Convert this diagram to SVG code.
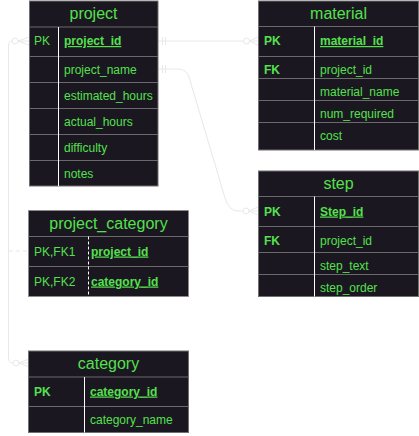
<svg xmlns="http://www.w3.org/2000/svg" width="419" height="436" viewBox="0 0 419 436">
  <style>
    .box { fill: #1a1720; stroke: #707070; stroke-width: 1; }
    .boxd { fill: #1a1720; stroke: #8a8a8a; stroke-width: 1; stroke-dasharray: 3 2; }
    .sep { stroke: #6a6a6a; stroke-width: 1; }
    .div { stroke: #ffffff; stroke-width: 1; }
    .divd { stroke: #ffffff; stroke-width: 1; stroke-dasharray: 3 2; }
    .hdr { fill: #55e04e; font-family: "Liberation Sans", Arial, sans-serif; font-size: 16px; text-anchor: middle; }
    .t { fill: #55e04e; font-family: "Liberation Sans", Arial, sans-serif; font-size: 12px; }
    .k { font-weight: bold; }
    .pk { font-weight: bold; text-decoration: underline; }
    .ln { fill: none; stroke: #e8e8e8; stroke-width: 1; }
    .lnd { fill: none; stroke: #e8e8e8; stroke-width: 1; stroke-dasharray: 4 3; }
  </style>

  <!-- relationships -->
  <g id="connectors">
    <!-- project.project_id -> material -->
    <path class="ln" d="M158.5,41 H243.5"/>
    <path class="ln" d="M162.5,37 V45 M165.5,37 V45"/>
    <circle class="ln" cx="246.5" cy="41" r="3"/>
    <path class="ln" d="M249.5,41 L258,37 M249.5,41 H258 M249.5,41 L258,45"/>

    <!-- project.project_name -> step -->
    <path class="ln" d="M158.5,69 H178 Q186,69 189,77 L225,198 Q229,211 238,211 H243"/>
    <path class="ln" d="M162.5,65 V73 M165.5,65 V73"/>
    <circle class="ln" cx="246" cy="211" r="3"/>
    <path class="ln" d="M249,211 L258,207 M249,211 H258 M249,211 L258,215"/>

    <!-- project <-> category via project_category -->
    <path class="ln" d="M12,41 Q8.5,41 8.5,46 V358 Q8.5,363 13,363"/>
    <circle class="ln" cx="15" cy="41" r="3"/>
    <path class="ln" d="M18,41 L29,37 M18,41 H29 M18,41 L29,45"/>
    <circle class="ln" cx="16" cy="363" r="3"/>
    <path class="ln" d="M19,363 L29,359 M19,363 H29 M19,363 L29,367"/>
    <path class="lnd" d="M9,251 H28"/>
  </g>

  <!-- project -->
  <g id="project">
    <rect class="box" x="29.5" y="1" width="128.5" height="185"/>
    <line class="sep" x1="29.5" y1="27" x2="158" y2="27"/>
    <line class="sep" x1="29.5" y1="56.5" x2="158" y2="56.5"/>
    <line class="sep" x1="29.5" y1="82.5" x2="158" y2="82.5"/>
    <line class="sep" x1="29.5" y1="108.5" x2="158" y2="108.5"/>
    <line class="sep" x1="29.5" y1="134.5" x2="158" y2="134.5"/>
    <line class="sep" x1="29.5" y1="160.5" x2="158" y2="160.5"/>
    <line class="div" x1="58.5" y1="27" x2="58.5" y2="186"/>
    <text class="hdr" x="93.5" y="19">project</text>
    <text class="t" x="34" y="45">PK</text>
    <text class="t pk" x="64" y="45">project_id</text>
    <text class="t" x="64" y="74">project_name</text>
    <text class="t" x="64" y="100">estimated_hours</text>
    <text class="t" x="64" y="126">actual_hours</text>
    <text class="t" x="64" y="152">difficulty</text>
    <text class="t" x="64" y="177.5">notes</text>
  </g>

  <!-- material -->
  <g id="material">
    <rect class="box" x="258.5" y="1" width="160" height="149"/>
    <line class="sep" x1="258.5" y1="26.5" x2="418.5" y2="26.5"/>
    <line class="sep" x1="258.5" y1="56.5" x2="418.5" y2="56.5"/>
    <line class="sep" x1="258.5" y1="78.5" x2="418.5" y2="78.5"/>
    <line class="sep" x1="258.5" y1="100.5" x2="418.5" y2="100.5"/>
    <line class="sep" x1="258.5" y1="122.5" x2="418.5" y2="122.5"/>
    <line class="div" x1="314.5" y1="26.5" x2="314.5" y2="150"/>
    <text class="hdr" x="338.5" y="19">material</text>
    <text class="t k" x="264" y="45">PK</text>
    <text class="t pk" x="320" y="45">material_id</text>
    <text class="t k" x="264" y="74">FK</text>
    <text class="t" x="320" y="74">project_id</text>
    <text class="t" x="320" y="96">material_name</text>
    <text class="t" x="320" y="118">num_required</text>
    <text class="t" x="320" y="140">cost</text>
  </g>

  <!-- step -->
  <g id="step">
    <rect class="box" x="258.5" y="171" width="160" height="125.5"/>
    <line class="sep" x1="258.5" y1="196.5" x2="418.5" y2="196.5"/>
    <line class="sep" x1="258.5" y1="226.5" x2="418.5" y2="226.5"/>
    <line class="sep" x1="258.5" y1="252.5" x2="418.5" y2="252.5"/>
    <line class="sep" x1="258.5" y1="274.5" x2="418.5" y2="274.5"/>
    <line class="div" x1="314.5" y1="196.5" x2="314.5" y2="296.5"/>
    <text class="hdr" x="338.5" y="189">step</text>
    <text class="t k" x="264" y="215.5">PK</text>
    <text class="t pk" x="320" y="215.5">Step_id</text>
    <text class="t k" x="264" y="244.5">FK</text>
    <text class="t" x="320" y="244.5">project_id</text>
    <text class="t" x="320" y="270">step_text</text>
    <text class="t" x="320" y="292">step_order</text>
  </g>

  <!-- project_category -->
  <g id="project_category">
    <rect class="boxd" x="28.5" y="210.5" width="160" height="86"/>
    <line class="sep" x1="28.5" y1="236.5" x2="188.5" y2="236.5"/>
    <line class="sep" x1="28.5" y1="266.5" x2="188.5" y2="266.5"/>
    <line class="divd" x1="88.5" y1="236.5" x2="88.5" y2="296.5"/>
    <text class="hdr" x="108.5" y="229">project_category</text>
    <text class="t" x="34" y="255.5">PK,FK1</text>
    <text class="t pk" x="91" y="255.5">project_id</text>
    <text class="t" x="34" y="285.5">PK,FK2</text>
    <text class="t pk" x="91" y="285.5">category_id</text>
  </g>

  <!-- category -->
  <g id="category">
    <rect class="box" x="28.5" y="351" width="160" height="81.5"/>
    <line class="sep" x1="28.5" y1="377" x2="188.5" y2="377"/>
    <line class="sep" x1="28.5" y1="406.5" x2="188.5" y2="406.5"/>
    <line class="div" x1="84.5" y1="377" x2="84.5" y2="432.5"/>
    <text class="hdr" x="108.5" y="369">category</text>
    <text class="t k" x="34" y="395.5">PK</text>
    <text class="t pk" x="90" y="395.5">category_id</text>
    <text class="t" x="90" y="424">category_name</text>
  </g>
</svg>
